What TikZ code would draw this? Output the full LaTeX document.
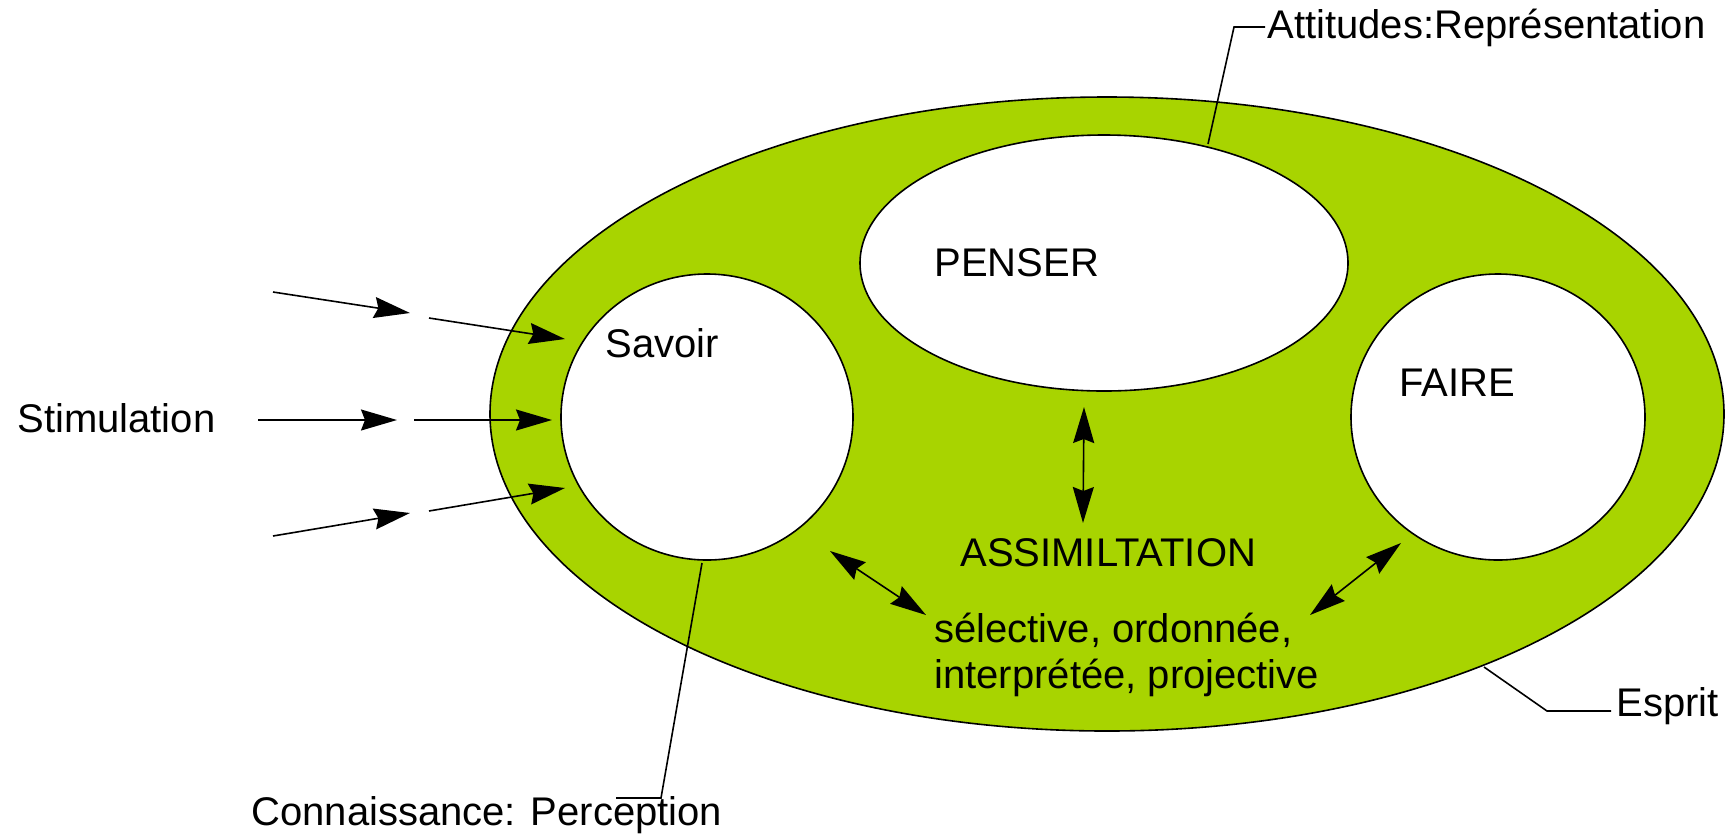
\documentclass[tikz,border=0pt]{standalone}
\usepackage{fontspec}
\setmainfont{Liberation Sans}
\usetikzlibrary{shapes.geometric,arrows.meta}
\definecolor{espritgreen}{RGB}{168,212,0}
\begin{document}
\begin{tikzpicture}[x=0.5pt,y=-0.5pt,
  lbl/.style={anchor=base west,inner sep=0pt,font=\fontsize{20}{24}\selectfont},
  blob/.style={ellipse,draw=black,line width=0.8pt,inner sep=0pt},
  ln/.style={line width=0.8pt},
  tip/.tip={Stealth[length=18pt,width=10.5pt,inset=2pt]},
  arr/.style={ln,-tip},
  darr/.style={ln,tip-tip}]
\useasboundingbox (0,0) rectangle (1725,837);
% shapes
\node[blob,fill=espritgreen,minimum width=617pt,minimum height=317pt] (esprit) at (1107,414) {};
\node[blob,fill=white,minimum width=146pt,minimum height=143pt] (savoir) at (707,417) {};
\node[blob,fill=white,minimum width=244pt,minimum height=128pt] (penser) at (1104,263) {};
\node[blob,fill=white,minimum width=147pt,minimum height=143pt] (faire) at (1498,417) {};
% labels
\node[lbl] (tSavoir) at (605,357) {Savoir};
\node[lbl] (tPenser) at (934,276) {PENSER};
\node[lbl] (tFaire) at (1399,396) {FAIRE};
\node[lbl] (tAssim) at (960,566) {ASSIMILTATION};
\node[lbl] (tSel) at (934,642) {sélective, ordonnée,};
\node[lbl] (tInt) at (934,688) {interprétée, projective};
\node[lbl] (tStim) at (17,432) {Stimulation};
\node[lbl] (tAtt) at (1267,38) {Attitudes:Représentation};
\node[lbl] (tEsp) at (1616,716) {Esprit};
\node[lbl] (tCon) at (251,825) {Connaissance: Perception};
% leader lines
\coordinate (attA) at (1208,144);
\coordinate (attB) at (1234,27);
\coordinate (attC) at (1265,27);
\draw[ln] (attA) -- (attB) -- (attC);
\coordinate (espA) at (1484,667);
\coordinate (espB) at (1547,711);
\coordinate (espC) at (1611,711);
\draw[ln] (espA) -- (espB) -- (espC);
\coordinate (conA) at (702,563);
\coordinate (conB) at (661,798);
\coordinate (conC) at (616,798);
\draw[ln] (conA) -- (conB) -- (conC);
% stimulation arrows
\coordinate (s1a) at (273,292); \coordinate (s1b) at (410,313);
\coordinate (s1c) at (429,318); \coordinate (s1d) at (565,339);
\coordinate (s2a) at (258,420); \coordinate (s2b) at (397,420);
\coordinate (s2c) at (414,420); \coordinate (s2d) at (552,420);
\coordinate (s3a) at (273,536); \coordinate (s3b) at (410,513);
\coordinate (s3c) at (429,511); \coordinate (s3d) at (565,488);
\draw[arr] (s1a) -- (s1b);
\draw[arr] (s1c) -- (s1d);
\draw[arr] (s2a) -- (s2b);
\draw[arr] (s2c) -- (s2d);
\draw[arr] (s3a) -- (s3b);
\draw[arr] (s3c) -- (s3d);
% double arrows
\coordinate (vA) at (1084,407); \coordinate (vB) at (1083,523);
\coordinate (lA) at (830,551); \coordinate (lB) at (926,615);
\coordinate (rA) at (1310,615); \coordinate (rB) at (1401,543);
\draw[darr] (vA) -- (vB);
\draw[darr] (lA) -- (lB);
\draw[darr] (rA) -- (rB);
\end{tikzpicture}
\end{document}
